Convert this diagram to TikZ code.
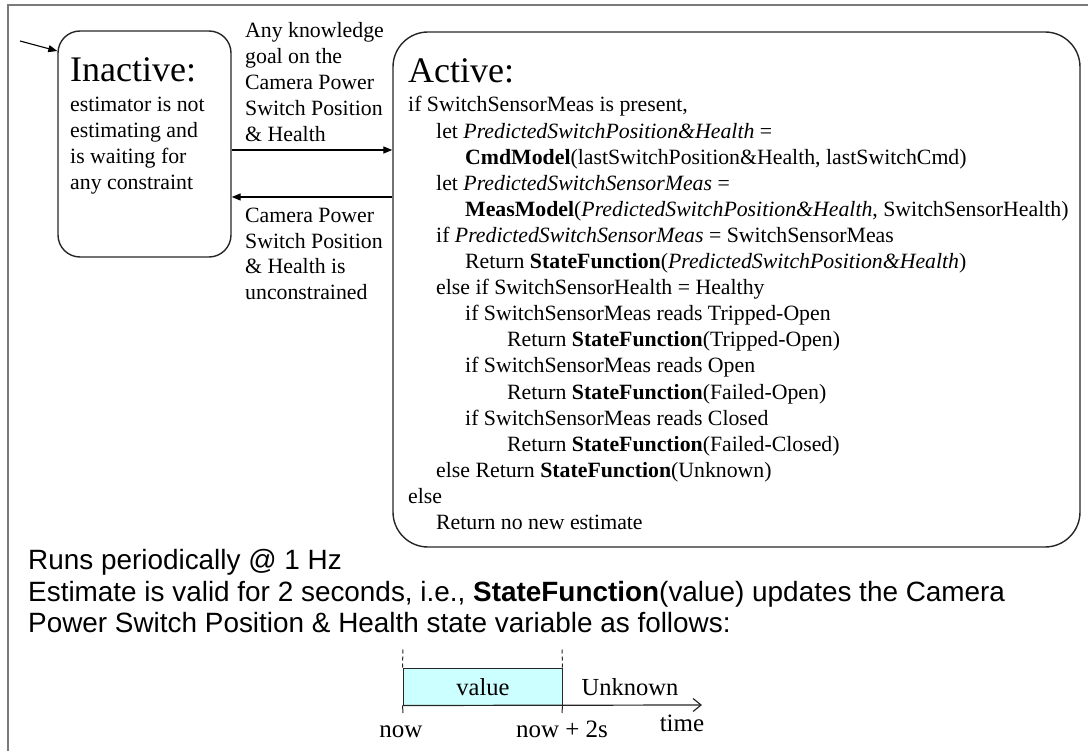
\documentclass[tikz,border=0pt]{standalone}
\usepackage{fontspec}
\setmainfont{Liberation Serif}
\newfontfamily\slidesans{Liberation Sans}
\usetikzlibrary{arrows.meta}
\definecolor{valfill}{HTML}{CCFFFF}
\definecolor{framegray}{HTML}{7A7A7A}
\begin{document}
\begin{tikzpicture}[x=1pt,y=-1pt,
  statebox/.style={draw=black!85,line width=1.4pt,inner sep=0pt},
  body/.style={anchor=base west,inner sep=0pt,font=\fontsize{21.8}{26}\selectfont},
  title/.style={anchor=base west,inner sep=0pt,font=\fontsize{36}{40}\selectfont},
  note/.style={anchor=base west,inner sep=0pt,font=\slidesans\fontsize{27.9}{32}\selectfont},
  axislabel/.style={anchor=base,inner sep=0pt,font=\fontsize{24.5}{28}\selectfont},
  ticklabel/.style={anchor=base,inner sep=0pt,font=\fontsize{25}{28}\selectfont},
  trans/.style={line width=1.3pt,-{Triangle[length=9pt,width=7pt]}},
  tickline/.style={line width=1pt,black!85}]
\useasboundingbox (0,0) rectangle (1088,751);

% page frame (top and left edges)
\draw[framegray,line width=2pt] (1088,5) -- (8,5) -- (8,751);

% the two states
\node[statebox,rounded corners=22pt,minimum width=173pt,minimum height=226pt] (inactive) at (144.5,144) {};
\node[statebox,rounded corners=35pt,minimum width=687pt,minimum height=515pt] (active) at (736.5,289.5) {};

% Inactive state text
\node[title] (inacttitle) at (70,82) {Inactive:};
\foreach \t [count=\i from 0] in {estimator is not,estimating and,is waiting for,any constraint}
  \node[body] (inact\i) at (70,{112+26*\i}) {\t};

% Active state text
\node[title] (acttitle) at (408,83) {Active:};
\foreach \xx/\t [count=\i from 0] in {
  408/{if SwitchSensorMeas is present,},
  436/{let \textit{PredictedSwitchPosition\&Health} =},
  465/{\textbf{CmdModel}(lastSwitchPosition\&Health, lastSwitchCmd)},
  436/{let \textit{PredictedSwitchSensorMeas} =},
  465/{\textbf{MeasModel}(\textit{PredictedSwitchPosition\&Health}, SwitchSensorHealth)},
  436/{if \textit{PredictedSwitchSensorMeas} = SwitchSensorMeas},
  465/{Return \textbf{StateFunction}(\textit{PredictedSwitchPosition\&Health})},
  436/{else if SwitchSensorHealth = Healthy},
  465/{if SwitchSensorMeas reads Tripped-Open},
  507/{Return \textbf{StateFunction}(Tripped-Open)},
  465/{if SwitchSensorMeas reads Open},
  507/{Return \textbf{StateFunction}(Failed-Open)},
  465/{if SwitchSensorMeas reads Closed},
  507/{Return \textbf{StateFunction}(Failed-Closed)},
  436/{else Return \textbf{StateFunction}(Unknown)},
  408/{else},
  436/{Return no new estimate}}
  \node[body] (act\i) at (\xx,{112+26.1*\i}) {\t};

% transitions
\coordinate (init) at (20,41);
\draw[trans,line width=1.1pt] (init) -- (inactive.west |- 0,51);
\draw[trans] (inactive.east |- 0,150) -- (active.west |- 0,150);
\draw[trans] (active.west |- 0,197) -- (inactive.east |- 0,197);

\foreach \t [count=\i from 0] in {Any knowledge,goal on the,Camera Power,Switch Position,\& Health}
  \node[body] (golabel\i) at (245,{38+26*\i}) {\t};
\foreach \t [count=\i from 0] in {Camera Power,Switch Position,\& Health is,unconstrained}
  \node[body] (backlabel\i) at (245,{223+25.4*\i}) {\t};

% notes below the states
\node[note] (rate) at (28,569) {Runs periodically @ 1 Hz};
\node[note] (valid1) at (28,601) {Estimate is valid for 2 seconds, i.e., \textbf{StateFunction}(value) updates the Camera};
\node[note] (valid2) at (28,632) {Power Switch Position \& Health state variable as follows:};

% validity timeline
\node[draw=black!85,line width=1pt,fill=valfill,minimum width=159pt,minimum height=37pt,inner sep=0pt] (valbox) at (482.5,686.5) {};
\coordinate (dashA) at (403,648);
\coordinate (dashB) at (562,648);
\coordinate (tickA) at (403,713);
\coordinate (tickB) at (562,713);
\coordinate (axisend) at (702,705);
\draw[tickline,dash pattern=on 4pt off 3pt] (valbox.north west) -- (dashA);
\draw[tickline,dash pattern=on 4pt off 3pt] (valbox.north east) -- (dashB);
\draw[tickline] (valbox.south west) -- (tickA);
\draw[tickline] (valbox.south east) -- (tickB);
\draw[tickline,line width=1.2pt,-{Straight Barb[length=8pt,width=13pt]}] (valbox.south west) -- (axisend);
\node[axislabel] (vallabel) at (483,695) {value};
\node[axislabel] (unklabel) at (630,695) {Unknown};
\node[ticklabel] (nowlabel) at (401,737) {now};
\node[ticklabel] (laterlabel) at (562,737) {now + 2s};
\node[ticklabel] (timelabel) at (682,731) {time};
\end{tikzpicture}
\end{document}
